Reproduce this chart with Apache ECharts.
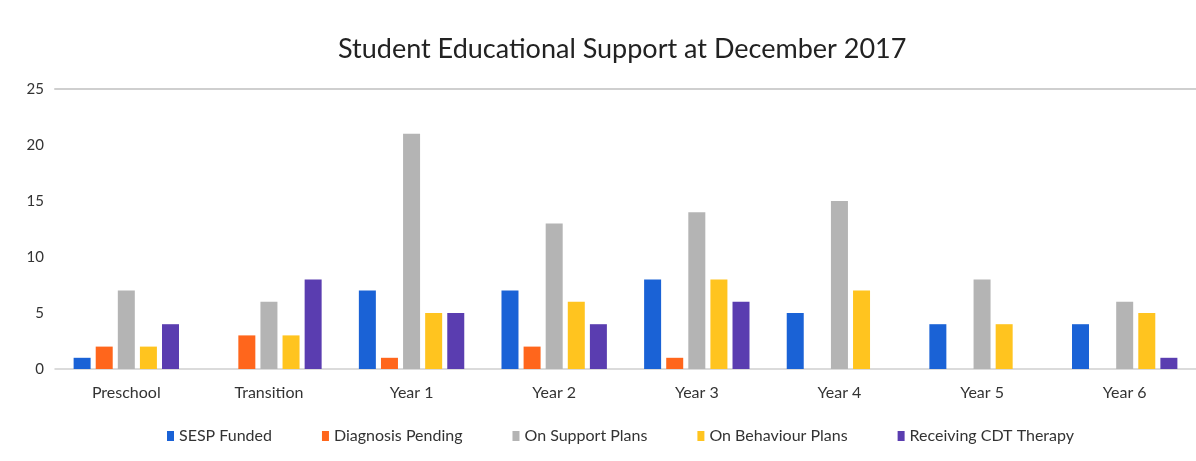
<!DOCTYPE html>
<html><head><meta charset="utf-8">
<script src="https://cdn.jsdelivr.net/npm/echarts@6/dist/echarts.min.js"></script>
<style>html,body{margin:0;padding:0;background:#fff}#c{width:1196px;height:461px}</style>
</head><body><div id="c"></div>
<script>
const categories = ['Preschool','Transition','Year 1','Year 2','Year 3','Year 4','Year 5','Year 6'];
const seriesNames = ['SESP Funded','Diagnosis Pending','On Support Plans','On Behaviour Plans','Receiving CDT Therapy'];
const sespFunded = [1, 0, 7, 7, 8, 5, 4, 4];
const diagnosisPending = [2, 3, 1, 2, 1, 0, 0, 0];
const onSupportPlans = [7, 6, 21, 13, 14, 15, 8, 6];
const onBehaviourPlans = [2, 3, 5, 6, 8, 7, 4, 5];
const receivingCDT = [4, 8, 5, 4, 6, 0, 0, 1];
const yTicks = [0, 5, 10, 15, 20, 25];

const colors = ['#1a62d6','#ff661c','#b4b4b4','#ffc41f','#5a3db0'];
const values = [sespFunded, diagnosisPending, onSupportPlans, onBehaviourPlans, receivingCDT];
const font = 'Lato, "Open Sans", sans-serif';

const chart = echarts.init(document.getElementById('c'));
chart.setOption({
  animation: false,
  title: {
    text: 'Student Educational Support at December 2017',
    left: 333, top: 31,
    textStyle: {fontFamily: font, fontSize: 27, fontWeight: 'normal', color: '#222'}
  },
  legend: {
    bottom: 12, left: 162, itemWidth: 7, itemHeight: 10, itemGap: 50, icon: 'rect',
    textStyle: {fontFamily: font, fontSize: 16, color: '#333'},
    data: seriesNames
  },
  grid: {left: 55, right: 0, top: 89, bottom: 92, containLabel: false},
  xAxis: [{
    type: 'category', data: categories,
    axisLine: {lineStyle: {color: '#cfcfcf', width: 1.5}},
    axisTick: {show: false},
    axisLabel: {fontFamily: font, fontSize: 16, color: '#333', margin: 16}
  }, {
    type: 'category', data: categories, position: 'top',
    axisLine: {show: true, lineStyle: {color: '#cfcfcf', width: 2}},
    axisTick: {show: false}, axisLabel: {show: false}
  }],
  yAxis: {
    type: 'value', min: yTicks[0], max: yTicks[yTicks.length-1], interval: 5,
    axisLine: {show: false}, axisTick: {show: false},
    splitLine: {show: false},
    axisLabel: {fontFamily: font, fontSize: 15, color: '#333', margin: 11}
  },
  series: seriesNames.map((n, i) => ({
    name: n, type: 'bar', data: values[i],
    barWidth: 17, barGap: '30%', barCategoryGap: '27%',
    itemStyle: {color: colors[i]}
  }))
});
</script></body></html>
